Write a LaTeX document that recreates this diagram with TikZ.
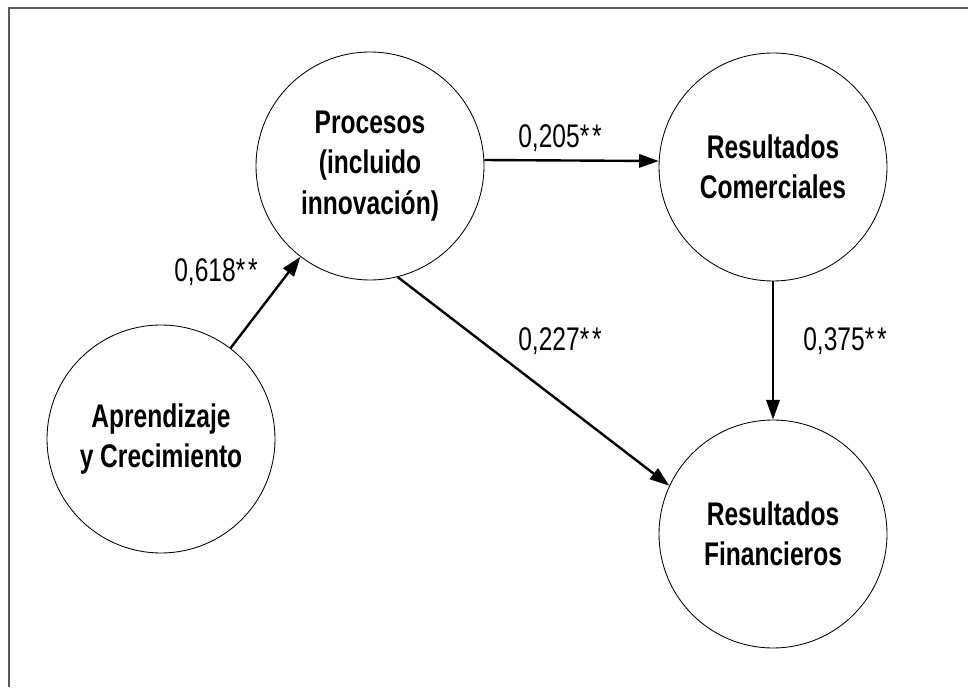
\documentclass[tikz,border=0pt]{standalone}
\usepackage{fontspec}
\setmainfont{Liberation Sans}[FakeStretch=0.75]
\usetikzlibrary{arrows.meta}

\begin{document}
\begin{tikzpicture}[
  factor/.style={circle,draw,line width=0.6pt,minimum size=5.7cm,inner sep=0pt,align=center,
    font=\fontsize{23.3}{28.6}\selectfont\bfseries},
  coef/.style={inner sep=0pt,font=\fontsize{23.3}{26}\selectfont},
  link/.style={line width=1.7pt,-{Triangle[length=14pt,width=9.5pt]}}
]
                \useasboundingbox (0,0) rectangle (24.2,17.175);
                \draw[black!65,line width=1.4pt](0.225,0)--(0.225,16.975)--(24.2,16.975);
                \node[factor] at (4.025,6.2)(apr){Aprendizaje\\y Crecimiento};
                \node[factor] at (9.25,13.025)(proc){Procesos\\(incluido\\innovación)};
                \node[factor] at (19.325,13.0)(com){Resultados\\Comerciales};
                \node[factor] at (19.325,3.825)(fin){Resultados\\Financieros};
                \draw[link](apr)--(proc);
                \draw[link](proc.3)--(com.177);
                \draw[link](proc.284)--(fin.155);
                \draw[link](com)--(fin);
                \node[coef] at (5.4,10.375)(c1){0,618*\kern2pt*};
                \node[coef] at (14.0,13.725)(c2){0,205*\kern2pt*};
                \node[coef] at (14.0,8.65)(c3){0,227*\kern2pt*};
                \node[coef] at (21.125,8.65)(c4){0,375*\kern2pt*};
            \end{tikzpicture}
\end{document}
